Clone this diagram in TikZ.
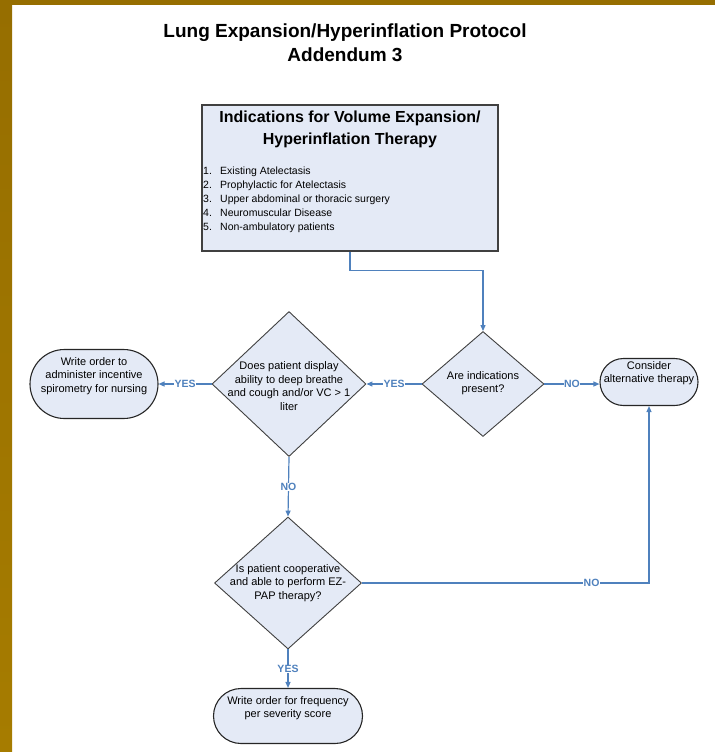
\documentclass[tikz,border=0pt]{standalone}
\usepackage{fontspec}
\setmainfont{Liberation Sans}
\usetikzlibrary{shapes.geometric,shapes.misc,arrows.meta}

\definecolor{flowblue}{RGB}{79,129,189}
\definecolor{boxfill}{RGB}{228,234,246}
\definecolor{boxline}{RGB}{64,64,64}
\definecolor{slidegold}{RGB}{166,124,0}
\definecolor{slidebrown}{RGB}{150,110,0}

\newcommand{\numitem}[1]{\makebox[17pt][l]{#1}}

\begin{document}
\begin{tikzpicture}[x=1pt,y=-1pt]
      % Define styles for nodes
      \tikzstyle{indbox} = [draw=boxline, fill=boxfill, rectangle,
      line width=1.4pt, minimum width=296pt, minimum height=146pt, inner sep=0pt]
      \tikzstyle{decision} = [draw=boxline, fill=boxfill, diamond,
      line width=0.9pt, inner sep=0pt]
      \tikzstyle{terminal} = [draw=black!85, fill=boxfill, rounded rectangle,
      line width=1.1pt, inner sep=0pt]
      \tikzstyle{txt} = [align=center, inner sep=0pt,
      font=\fontsize{11}{13.5}\selectfont]
      \tikzstyle{flow} = [draw=flowblue, line width=1.2pt,
      -{Triangle[length=6pt,width=5pt]}]
      \tikzstyle{answer} = [fill=white, text=flowblue, inner sep=0.3pt,
      font=\fontsize{10.5}{12}\selectfont\bfseries]

      \useasboundingbox (0,0) rectangle (715,752);

      % Slide frame
      \shade[top color=slidebrown, bottom color=slidegold] (0,0) rectangle (12,752);
      \fill[slidebrown] (0,0) rectangle (715,5);

      % Title at top
      \node[align=center, font=\fontsize{19}{24}\selectfont\bfseries] (title)
      at (345,43) {Lung Expansion/Hyperinflation Protocol\\Addendum 3};

      % Indications box
      \node[indbox] (ind) at (350,178) {};
      \node[align=center, font=\fontsize{16}{22}\selectfont\bfseries] (indtitle)
      at (350,129) {Indications for Volume Expansion/\\Hyperinflation Therapy};
      \node[anchor=north west, align=left, inner sep=0pt,
      font=\fontsize{10.5}{14}\selectfont] (indlist) at (203,167)
      {\numitem{1.}Existing Atelectasis\\
       \numitem{2.}Prophylactic for Atelectasis\\
       \numitem{3.}Upper abdominal or thoracic surgery\\
       \numitem{4.}Neuromuscular Disease\\
       \numitem{5.}Non-ambulatory patients};

      % Decisions
      \node[decision, minimum width=122pt, minimum height=105pt] (are) at (483,384) {};
      \node[txt] (aretext) at (483,383) {Are indications\\present?};
      \node[decision, minimum width=154pt, minimum height=145pt] (deep) at (289,384) {};
      \node[txt] (deeptext) at (289,386)
      {Does patient display\\ability to deep breathe\\and cough and/or VC > 1\\liter};
      \node[decision, minimum width=147pt, minimum height=132pt] (coop) at (288,583) {};
      \node[txt] (cooptext) at (288,583)
      {Is patient cooperative\\and able to perform EZ-\\PAP therapy?};

      % End points
      \node[terminal, minimum width=128pt, minimum height=69pt] (spiro) at (94,384) {};
      \node[txt] (spirotext) at (94,376)
      {Write order to\\administer incentive\\spirometry for nursing};
      \node[terminal, minimum width=98pt, minimum height=47pt] (alt) at (649,382) {};
      \node[txt] (alttext) at (649,373) {Consider\\alternative therapy};
      \node[terminal, minimum width=149pt, minimum height=55pt] (freq) at (288,716) {};
      \node[txt] (freqtext) at (288,708) {Write order for frequency\\per severity score};

      % Connections
      \draw[flow] (ind.south) -- ++(0,19) -| (are.north);
      \draw[flow] (are.west) -- (deep.east) node[answer, midway] {YES};
      \draw[flow] (are.east) -- (are.east -| alt.west) node[answer, midway] {NO};
      \draw[flow] (deep.west) -- (deep.west -| spiro.east) node[answer, midway] {YES};
      \draw[flow] (deep.south) -- (coop.north) node[answer, midway] {NO};
      \draw[flow] (coop.east) -| (alt.south) node[answer, pos=0.4] {NO};
      \draw[flow] (coop.south) -- (freq.north) node[answer, midway] {YES};
\end{tikzpicture}
\end{document}
